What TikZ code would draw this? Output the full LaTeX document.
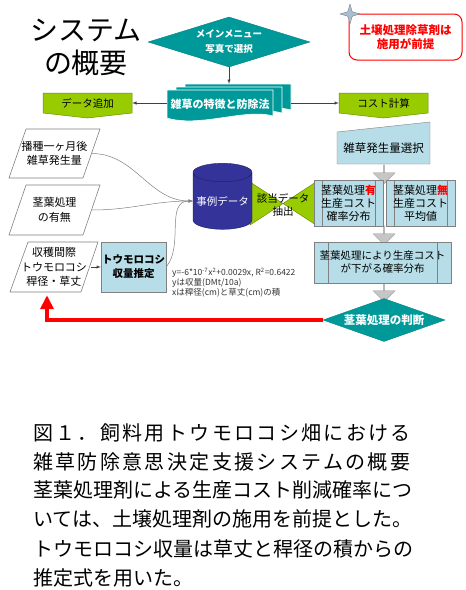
\documentclass[tikz,border=0pt]{standalone}
\usepackage{fontspec}
\setmainfont{Noto Sans CJK JP}
\usepackage{xcolor}
\usetikzlibrary{arrows,arrows.meta,positioning,shapes,shapes.geometric,shapes.arrows,calc}

\definecolor{menuteal}{RGB}{0,153,153}
\definecolor{taggreen}{RGB}{153,204,0}
\definecolor{dbblue}{RGB}{51,51,153}
\definecolor{procblue}{RGB}{183,222,232}
\definecolor{starblue}{RGB}{170,190,210}

\tikzset{
  menudiamond/.style={diamond, fill=menuteal, draw=menuteal!85!black, text=white, align=center, inner sep=0pt},
  tagbox/.style={minimum width=89pt, minimum height=20pt, inner sep=0pt, font=\fontsize{10.5}{12}\selectfont},
  tagshape/.style={fill=taggreen, draw=taggreen!70!black, line width=0.5pt},
  inshape/.style={draw=gray, fill=white, line width=0.6pt},
  inbox/.style={minimum width=74pt, minimum height=50pt, inner sep=0pt, align=center,
    font=\fontsize{11}{14.5}\selectfont},
  procbox/.style={rectangle, draw=gray, fill=procblue, align=center, inner sep=0pt,
    path picture={\draw[gray] ([xshift=#1]path picture bounding box.north west) -- ([xshift=#1]path picture bounding box.south west)
      ([xshift=-#1]path picture bounding box.north east) -- ([xshift=-#1]path picture bounding box.south east);}},
  procbox/.default=8pt,
  grayarrow/.style={single arrow, shape border rotate=270, fill=gray!45, draw=gray!75, minimum width=22pt,
    minimum height=19pt, single arrow head extend=5pt, inner sep=0pt},
  link/.style={->, >=latex, draw=black!75, line width=0.5pt},
  sheet/.style={fill=menuteal, draw=white, line width=0.6pt},
}

\begin{document}
\begin{tikzpicture}[x=1pt,y=-1pt]
    \useasboundingbox (0,0) rectangle (466,590);

    % タイトル
    \node[align=center, font=\fontsize{28}{33}\selectfont] (title) at (86,47) {システム\\の概要};

    % メインメニュー
    \node[menudiamond, aspect=3.2, minimum width=162pt, minimum height=50pt, font=\bfseries\fontsize{9.5}{15}\selectfont] (menu) at (229,42) {メインメニュー\\写真で選択};

    % 前提
    \node[draw=red, line width=1pt, rounded corners=8pt, minimum width=113pt, minimum height=46pt, text=red, align=center,
      font=\bfseries\fontsize{11.5}{14}\selectfont] (premise) at (405.5,37) {土壌処理除草剤は\\施用が前提};
    \node[star, star points=4, star point ratio=3.2, minimum size=20pt, inner sep=0pt, fill=starblue, draw=gray] (spark) at (350,14) {};

    % 雑草の特徴と防除法
    \node[minimum width=124pt, minimum height=38pt, inner sep=0pt] (stack) at (229,103) {};
    \filldraw[sheet] (185,84) -- (291,84) -- (291,110) .. controls (263,102) and (218,122) .. (185,112) -- cycle;
    \filldraw[sheet] (176,87) -- (282,87) -- (282,113) .. controls (254,105) and (209,125) .. (176,115) -- cycle;
    \filldraw[sheet] (167,90) -- (273,90) -- (273,116) .. controls (245,108) and (200,128) .. (167,118) -- cycle;
    \node[text=white, font=\bfseries\fontsize{11}{13}\selectfont] (stacktext) at (220,104) {雑草の特徴と防除法};

    \filldraw[tagshape] (43,93) -- (132,93) -- (132,113) -- (87.5,118) -- (43,113) -- cycle;
    \node[tagbox] (addtag) at (87.5,103) {データ追加};
    \filldraw[tagshape] (339,93) -- (428,93) -- (428,113) -- (383.5,118) -- (339,113) -- cycle;
    \node[tagbox] (costtag) at (383.5,103) {コスト計算};

    \draw[link] (menu) -- (stack);
    \draw[link] (stack) -- (addtag);
    \draw[link] (stack) -- (costtag);

    % 入力
    \filldraw[inshape] (9,178) -- (26,129) -- (100,129) -- (83,178) -- cycle;
    \node[inbox] (sowing) at (54.5,153.5) {播種一ヶ月後\\雑草発生量};
    \filldraw[inshape] (9,235) -- (26,185) -- (100,185) -- (83,235) -- cycle;
    \node[inbox] (foliar) at (54.5,210) {茎葉処理\\の有無};
    \filldraw[inshape] (10,292) -- (28,242) -- (98,242) -- (81,292) -- cycle;
    \node[inbox] (harvest) at (54,267) {収穫間際\\トウモロコシ\\稈径・草丈};
    \node[draw=gray, fill=procblue, minimum width=65pt, minimum height=50pt, inner sep=0pt, align=center,
      font=\bfseries\fontsize{10.5}{14}\selectfont] (yield) at (133.5,267) {トウモロコシ\\収量推定};

    % 該当データ抽出
    \filldraw[tagshape] (250,182) -- (283,203.5) -- (250,225) -- cycle;
    \filldraw[tagshape] (316,182) -- (283,203.5) -- (316,225) -- cycle;
    \node[align=center, inner sep=0pt, font=\fontsize{10.5}{13}\selectfont] (extract) at (283,205) {該当データ\\抽出};

    \node[cylinder, shape border rotate=90, aspect=0.35, minimum width=59pt, minimum height=66pt, inner sep=0pt,
      fill=dbblue, draw=dbblue!60!black, text=white, font=\fontsize{10.5}{12}\selectfont] (cases) at (222.5,201) {事例データ};

    \draw[link, draw=gray] (sowing.east) to[out=0, in=180] (cases.west);
    \draw[link, draw=gray] (foliar.east) to[out=0, in=180] (cases.west);
    \draw[link, draw=gray] (yield.east) to[out=50, in=180] (cases.west);
    \draw[link] (harvest.east) -- (yield.west);

    % 右側
    \node[grayarrow] (down1) at (384,174) {};
    \node[grayarrow] (down2) at (384,235) {};
    \node[grayarrow] (down3) at (384,292) {};
    \filldraw[fill=procblue, draw=gray] (337,132) -- (430,122) -- (430,164) -- (337,164) -- cycle;
    \node[font=\fontsize{11.5}{13}\selectfont] (select) at (383.5,148) {雑草発生量選択};
    \node[procbox, minimum width=69pt, minimum height=46pt, font=\fontsize{11}{13}\selectfont] (withfol) at (348.5,203)
      {茎葉処理\textcolor{red}{\bfseries 有}\\生産コスト\\確率分布};
    \node[procbox, minimum width=69pt, minimum height=46pt, font=\fontsize{11}{13}\selectfont] (withoutfol) at (420.5,203)
      {茎葉処理\textcolor{red}{\bfseries 無}\\生産コスト\\平均値};
    \node[procbox=14pt, minimum width=137pt, minimum height=41pt, font=\fontsize{10.5}{13}\selectfont] (reduce) at (382.5,262.5)
      {茎葉処理により生産コスト\\が下がる確率分布};
    \node[menudiamond, aspect=2.84, minimum width=122pt, minimum height=43pt, font=\bfseries\fontsize{11.5}{13}\selectfont] (judge) at (384,320) {茎葉処理の判断};

    % 判断から戻る
    \coordinate (corner) at (47,320);
    \draw[red, line width=4pt, -{Triangle[width=13pt,length=14pt]}] (judge.west) -- (corner) -- ([yshift=-3pt]corner |- harvest.south);

    \node[anchor=north west, align=left, inner sep=0pt, text=black!80, font=\fontsize{8.5}{10}\selectfont] (formula) at (172,268)
      {y=-6*10\textsuperscript{-7}x\textsuperscript{2}+0.0029x, R\textsuperscript{2}=0.6422\\yは収量(DMt/10a)\\xは稈径(cm)と草丈(cm)の積};

    % 説明
    \node[anchor=west, inner sep=0pt, font=\fontsize{20}{24}\selectfont\addfontfeature{LetterSpace=11.8}] (cap1) at (33,433) {図１．飼料用トウモロコシ畑における};
    \node[anchor=west, inner sep=0pt, font=\fontsize{20}{24}\selectfont\addfontfeature{LetterSpace=11.8}] (cap2) at (33,462) {雑草防除意思決定支援システムの概要};
    \node[anchor=west, inner sep=0pt, font=\fontsize{20}{24}\selectfont] (cap3) at (33,490) {茎葉処理剤による生産コスト削減確率につ};
    \node[anchor=west, inner sep=0pt, font=\fontsize{20}{24}\selectfont] (cap4) at (33,519) {いては、土壌処理剤の施用を前提とした。};
    \node[anchor=west, inner sep=0pt, font=\fontsize{20}{24}\selectfont] (cap5) at (33,549) {トウモロコシ収量は草丈と稈径の積からの};
    \node[anchor=west, inner sep=0pt, font=\fontsize{20}{24}\selectfont] (cap6) at (33,578) {推定式を用いた。};
\end{tikzpicture}
\end{document}
